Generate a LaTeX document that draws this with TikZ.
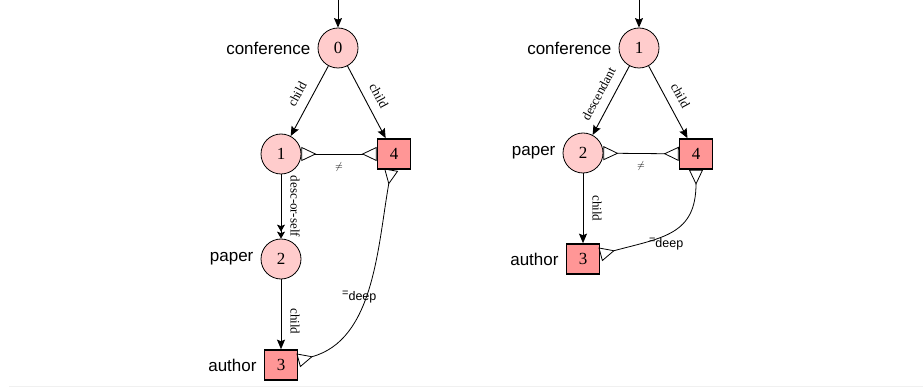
\documentclass[tikz,border=0pt]{standalone}
\usepackage{fontspec}
\setmainfont{Liberation Serif}
\newfontfamily\helv{Liberation Sans}
\usetikzlibrary{arrows.meta,positioning}
\definecolor{circfill}{HTML}{FFCCCC}
\definecolor{boxfill}{HTML}{FF9696}
\newcommand{\deeplbl}{{\fontsize{11}{11}\selectfont\raisebox{3.5pt}{=}}deep}

\begin{document}
\begin{tikzpicture}[x=1pt,y=-1pt,
  state/.style={circle,draw,line width=0.8pt,fill=circfill,minimum size=40pt,inner sep=0pt,font=\fontsize{17}{17}\selectfont},
  outbox/.style={rectangle,draw,line width=1.6pt,fill=boxfill,minimum width=33pt,minimum height=30pt,inner sep=0pt,font=\fontsize{17}{17}\selectfont},
  tag/.style={font=\helv\fontsize{17}{17}\selectfont,inner sep=0pt},
  nav/.style={line width=0.9pt,-{Stealth[length=9.5pt,width=8pt,inset=1.5pt]}},
  navstar/.style={line width=0.9pt,-{Stealth[length=7pt,width=8pt,inset=1.5pt]Stealth[length=7pt,width=8pt,inset=1.5pt]}},
  lbl/.style={font=\fontsize{13}{13}\selectfont,sloped,above=7pt,inner sep=2pt},
  neq/.style={line width=0.8pt,{Triangle[open,reversed,length=15pt,width=14pt]}-{Triangle[open,reversed,length=15pt,width=14pt]}},
  deep/.style={font=\helv\fontsize{12.5}{12.5}\selectfont,inner sep=0pt}
]
\useasboundingbox (0,0) rectangle (923,387);

% Left pattern
\coordinate (in0) at (338,0);
\node[state] (n0) at (338,48) {0};
\node[state] (n1) at (281,154) {1};
\node[outbox] (n4) at (394,154) {4};
\node[state] (n2) at (281,259) {2};
\node[outbox] (n3) at (281,365) {3};

\node[tag,left=7pt of n0] (t0) {conference};
\node[tag,left=7pt of n2] (t2) {paper};
\node[tag,left=7pt of n3] (t3) {author};

\draw[nav] (in0) -- (n0);
\draw[nav] (n0) -- node[lbl] {child} (n1);
\draw[nav] (n0) -- node[lbl] {child} (n4);
\draw[navstar] (n1) -- node[lbl] {desc-or-self} (n2);
\draw[nav] (n2) -- node[lbl,pos=0.6] {child} (n3);
\draw[neq] (n1) -- node[below=8pt,inner sep=0pt] {$\neq$} (n4);
\draw[neq] (n4) to[out=-100,in=15,looseness=0.95]
  node[deep,pos=0.55,xshift=-5pt] {\deeplbl} (n3);

% Right pattern
\coordinate (in1) at (639,0);
\node[state] (m1) at (639,48) {1};
\node[state] (m2) at (583,153) {2};
\node[outbox] (m4) at (696,154) {4};
\node[outbox] (m3) at (583,259) {3};

\node[tag,left=7pt of m1] (u1) {conference};
\node[tag,left=7pt of m2] (u2) {paper};
\node[tag,left=7pt of m3] (u3) {author};

\draw[nav] (in1) -- (m1);
\draw[nav] (m1) -- node[lbl] {descendant} (m2);
\draw[nav] (m1) -- node[lbl] {child} (m4);
\draw[nav] (m2) -- node[lbl] {child} (m3);
\draw[neq] (m2) -- node[below=8pt,inner sep=0pt] {$\neq$} (m4);
\draw[neq] (m4) to[out=-90,in=15,looseness=1.3]
  node[deep,pos=0.7,anchor=west,yshift=-3pt] {\deeplbl} (m3);

% faint rule at the bottom
\draw[gray!12,line width=1pt] (9,386) -- (923,386);
\end{tikzpicture}
\end{document}
